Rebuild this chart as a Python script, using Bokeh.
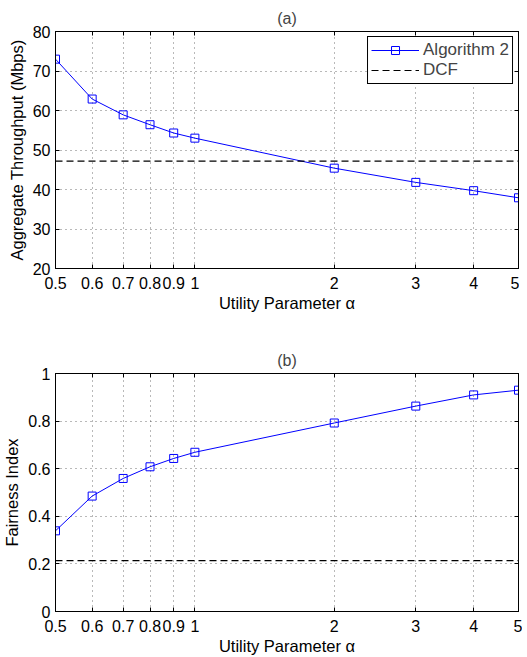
from bokeh.plotting import figure
from bokeh.models import Range1d, FixedTicker, Legend, LegendItem, LogAxis, LinearAxis
from bokeh.layouts import column
from bokeh.embed import file_html
from bokeh.resources import INLINE

# ---- data ----
alpha = [0.5, 0.6, 0.7, 0.8, 0.9, 1, 2, 3, 4, 5]
throughput_alg2 = [73.0, 62.9, 58.9, 56.4, 54.3, 53.0, 45.4, 41.8, 39.7, 37.9]
throughput_dcf = 47.2
fairness_alg2 = [0.339, 0.485, 0.559, 0.608, 0.643, 0.669, 0.792, 0.863, 0.910, 0.930]
fairness_dcf = 0.214

x_ticks = [0.5, 0.6, 0.7, 0.8, 0.9, 1, 2, 3, 4, 5]
x_tick_labels = ["0.5", "0.6", "0.7", "0.8", "0.9", "1", "2", "3", "4", "5"]
y1_ticks = [20, 30, 40, 50, 60, 70, 80]
y1_tick_labels = ["20", "30", "40", "50", "60", "70", "80"]
y2_ticks = [0, 0.2, 0.4, 0.6, 0.8, 1]
y2_tick_labels = ["0", "0.2", "0.4", "0.6", "0.8", "1"]

FONT = "Liberation Sans"
TICK_FS = "16px"
LABEL_FS = "16.5px"


def mirror_axes(p, yt):
    top = LogAxis(ticker=FixedTicker(ticks=x_ticks))
    right = LinearAxis(ticker=FixedTicker(ticks=yt))
    for ax in (top, right):
        ax.major_tick_in = 4
        ax.major_tick_out = 0
        ax.minor_tick_line_color = None
        ax.axis_line_color = "black"
        ax.major_tick_line_color = "black"
        ax.major_label_text_font_size = "0px"
        ax.major_label_text_alpha = 0
        ax.major_label_standoff = 0
    p.add_layout(top, "above")
    p.add_layout(right, "right")


def style(p, yt, ylab, xlabel, ylabel):
    p.title.text_font = FONT
    p.title.text_font_size = "16px"
    p.title.text_font_style = "normal"
    p.title.align = "center"
    p.title.standoff = 10
    p.outline_line_color = "black"
    p.outline_line_width = 1
    p.outline_line_alpha = 1
    p.background_fill_color = "white"
    p.border_fill_color = "white"

    p.xaxis.ticker = FixedTicker(ticks=x_ticks)
    p.xaxis.major_label_overrides = dict(zip(x_ticks, x_tick_labels))
    p.yaxis.ticker = FixedTicker(ticks=yt)
    p.yaxis.major_label_overrides = dict(zip(yt, ylab))
    for ax in (p.xaxis, p.yaxis):
        ax.major_tick_in = 4
        ax.major_tick_out = 0
        ax.minor_tick_line_color = None
        ax.axis_line_color = "black"
        ax.major_tick_line_color = "black"
        ax.major_label_text_font = FONT
        ax.major_label_text_font_size = TICK_FS
        ax.major_label_text_color = "black"
        ax.axis_label_text_font = FONT
        ax.axis_label_text_font_size = LABEL_FS
        ax.axis_label_text_font_style = "normal"
        ax.axis_label_text_color = "black"
    p.xaxis.axis_label = xlabel
    p.yaxis.axis_label = ylabel
    p.xaxis.major_label_standoff = 8
    p.yaxis.major_label_standoff = 5
    p.xaxis.axis_label_standoff = 2
    p.yaxis.axis_label_standoff = 4

    for g in (p.xgrid, p.ygrid):
        g.grid_line_color = "black"
        g.grid_line_alpha = 0.55
        g.grid_line_dash = "1 4"
        g.grid_line_width = 1
    mirror_axes(p, yt)


# ---- (a) throughput ----
p1 = figure(frame_width=463, frame_height=237, x_axis_type="log",
            x_range=Range1d(0.5, 5), y_range=Range1d(20, 80),
            title="(a)", output_backend="svg", toolbar_location=None,
            min_border_left=52, min_border_right=4,
            min_border_top=31, min_border_bottom=76)
style(p1, y1_ticks, y1_tick_labels, "Utility Parameter α", "Aggregate Throughput (Mbps)")

r_alg = p1.line(alpha, throughput_alg2, line_color="#0000ff", line_width=1)
r_alg_m = p1.scatter(alpha, throughput_alg2, marker="square", size=8,
                     line_color="#0000ff", fill_color=None, line_width=1)
r_dcf = p1.line(alpha, [throughput_dcf] * len(alpha), line_color="black",
                line_width=1.2, line_dash="7 4")

legend = Legend(items=[LegendItem(label="Algorithm 2", renderers=[r_alg, r_alg_m]),
                       LegendItem(label="DCF", renderers=[r_dcf])],
                location="top_right")
legend.border_line_color = "black"
legend.border_line_width = 1
legend.border_line_alpha = 1
legend.background_fill_alpha = 1
legend.label_text_font = FONT
legend.label_text_font_size = "17px"
legend.padding = 3
legend.spacing = 0
legend.margin = 5
legend.glyph_width = 48
legend.glyph_height = 20
legend.label_height = 20
legend.label_standoff = 4
p1.add_layout(legend)

# ---- (b) fairness ----
p2 = figure(frame_width=463, frame_height=238, x_axis_type="log",
            x_range=Range1d(0.5, 5), y_range=Range1d(0, 1),
            title="(b)", output_backend="svg", toolbar_location=None,
            min_border_left=52, min_border_right=4,
            min_border_top=20, min_border_bottom=43)
style(p2, y2_ticks, y2_tick_labels, "Utility Parameter α", "Fairness Index")

p2.line(alpha, fairness_alg2, line_color="#0000ff", line_width=1)
p2.scatter(alpha, fairness_alg2, marker="square", size=8,
           line_color="#0000ff", fill_color=None, line_width=1)
p2.line(alpha, [fairness_dcf] * len(alpha), line_color="black",
        line_width=1.2, line_dash="7 4")

layout = column(p1, p2, spacing=0)
open("out.html", "w").write(file_html(layout, INLINE))
